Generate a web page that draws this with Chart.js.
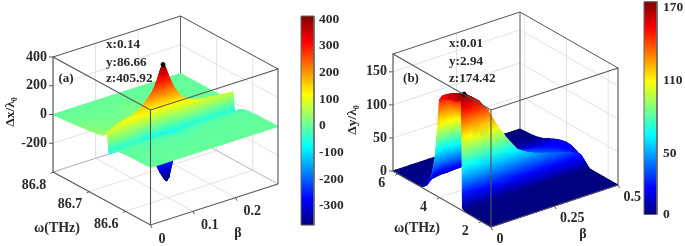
<!DOCTYPE html>
<html>
<head>
<meta charset="utf-8">
<title>Δx and Δy surfaces</title>
<script src="https://cdn.jsdelivr.net/npm/chart.js@4/dist/chart.umd.min.js"></script>
<style>
    html, body { margin: 0; padding: 0; background: #fff; }
    canvas { position: absolute; top: 0; filter: blur(0.45px); }
    #chartA { left: 0; }
    #chartB { left: 345px; }
</style>
</head>
<body>
<canvas id="chartA" width="345" height="246"></canvas>
<canvas id="chartB" width="340" height="246"></canvas>
<script>
// panel (a): values, one row per omega
const betaA = [0, 0.03, 0.06, 0.08, 0.10, 0.115, 0.125, 0.135, 0.14, 0.145, 0.155, 0.165, 0.18, 0.20, 0.23, 0.26, 0.30];
const omegaA = [86.53, 86.56, 86.59, 86.61, 86.625, 86.635, 86.645, 86.65, 86.655, 86.66, 86.665, 86.67, 86.68, 86.70, 86.73, 86.76, 86.80];
const zA = [
    [0, 0, 0, 0, 0, 0, 0, 0, 0, 0, 0, 0, 0, 0, 0, 0, 0],
    [-1, -1, -1, -1, -2, -2, -2, -2, -2, -2, -2, -2, -2, -1, -1, -1, -1],
    [-3, -3, -3, -4, -4, -5, -6, -6, -7, -6, -6, -5, -4, -4, -3, -3, -3],
    [-7, -7, -8, -8, -9, -10, -12, -13, -14, -13, -12, -10, -9, -8, -7, -7, -7],
    [-14, -14, -15, -16, -18, -20, -24, -26, -28, -26, -24, -20, -18, -16, -14, -14, -14],
    [-30, -30, -30, -30, -30, -32, -34, -36, -38, -36, -34, -32, -30, -28, -26, -26, -26],
    [-60, -65, -62, -60, -60, -60, -60, -60, -60, -60, -60, -60, -60, -60, -60, -58, -58],
    [85, 80, 30, -70, -170, -250, -320, -375, -390, -370, -250, -170, -100, -80, -65, -62, -60],
    [60, 105, 125, 150, 140, 70, 20, 10, 20, 20, 30, 85, 150, 110, 90, 80, 70],
    [48, 60, 80, 120, 190, 240, 300, 385, 405.92, 385, 300, 225, 130, 60, 40, 30, 25],
    [44, 42, 55, 85, 130, 165, 210, 265, 280, 265, 210, 160, 85, 30, 20, 15, 10],
    [40, 32, 40, 58, 90, 115, 145, 180, 190, 180, 145, 110, 55, 15, 10, 8, 5],
    [35, 24, 26, 36, 52, 65, 80, 96, 100, 96, 80, 60, 28, 6, 5, 4, 3],
    [25, 20, 16, 18, 24, 30, 35, 40, 42, 40, 35, 25, 12, 3, 2, 2, 1],
    [18, 12, 8, 8, 10, 12, 14, 16, 16, 16, 14, 10, 5, 1, 1, 1, 0],
    [8, 5, 3, 3, 4, 5, 5, 6, 6, 6, 5, 3, 2, 0, 0, 0, 0],
    [0, 0, 0, 0, 0, 0, 0, 0, 0, 0, 0, 0, 0, 0, 0, 0, 0]
];
const betaTicksA = [0, 0.1, 0.2];
const omegaTicksA = [86.6, 86.7, 86.8];
const zTicksA = [400, 200, 0, -200];
const barTicksA = [400, 300, 200, 100, 0, -100, -200, -300];
const peakA = [0.14, 86.66, 405.92];

// panel (b)
const betaB = [0, 0.01, 0.02, 0.04, 0.07, 0.10, 0.14, 0.18, 0.22, 0.26, 0.30, 0.35, 0.40, 0.44, 0.47, 0.50];
const omegaB = [1.53, 2.2, 2.8, 2.9, 2.94, 3.0, 3.2, 3.5, 3.8, 4.0, 4.2, 4.4, 4.6, 4.8, 5.1, 5.5, 6.23];
const zB = [
    [0, 0, 0, 0, 0, 0, 0, 0, 0, 0, 0, 0, 0, 0, 0, 0],
    [0, 0, 0, 0, 0, 0, 0, 0, 0, 0, 0, 0, 0, 0, 0, 0],
    [1, 1, 1, 1, 1, 1, 1, 1, 1, 0, 0, 0, 0, 0, 0, 0],
    [4, 4, 4, 4, 3, 3, 3, 2, 2, 1, 1, 1, 1, 1, 1, 0],
    [165, 174.42, 172, 166, 156, 140, 110, 85, 64, 54, 47, 41, 36, 30, 24, 0],
    [165, 173, 171, 165, 154, 137, 107, 82, 62, 53, 46, 40, 35, 29, 24, 1],
    [160, 170, 168, 160, 147, 128, 100, 77, 58, 50, 43, 38, 33, 28, 23, 8],
    [158, 165, 162, 152, 136, 116, 90, 69, 53, 45, 39, 34, 30, 26, 22, 16],
    [152, 158, 154, 142, 124, 105, 80, 61, 47, 40, 35, 31, 27, 24, 21, 20],
    [148, 152, 147, 134, 115, 96, 72, 55, 42, 36, 31, 28, 25, 22, 20, 20],
    [58, 75, 80, 85, 80, 70, 55, 44, 35, 30, 26, 24, 22, 20, 19, 19],
    [20, 30, 35, 40, 40, 38, 34, 30, 26, 23, 21, 20, 18, 17, 17, 17],
    [8, 14, 18, 22, 24, 23, 22, 21, 19, 17, 16, 15, 14, 14, 14, 14],
    [2, 5, 8, 10, 12, 12, 13, 13, 13, 12, 11, 11, 11, 11, 11, 11],
    [1, 2, 3, 4, 5, 6, 6, 7, 7, 7, 6, 6, 6, 6, 6, 6],
    [0, 1, 1, 1, 2, 2, 2, 2, 3, 3, 3, 2, 2, 2, 2, 2],
    [0, 0, 0, 0, 0, 0, 0, 0, 0, 0, 0, 0, 0, 0, 0, 0]
];
const betaTicksB = [0, 0.25, 0.5];
const omegaTicksB = [2, 4, 6];
const zTicksB = [150, 100, 50, 0];
const barTicksB = [170, 110, 50, 0];
const peakB = [0.01, 2.94, 174.42];

const FONT = '"Liberation Serif", serif';
const TEXT_COLOR = '#2a2a2a';

// jet colormap, t in 0..1
function jet(t) {
    const ch = v => Math.round(255 * Math.max(0, Math.min(1, v)));
    const r = ch(1.5 - Math.abs(4 * t - 3));
    const g = ch(1.5 - Math.abs(4 * t - 2));
    const b = ch(1.5 - Math.abs(4 * t - 1));
    return `rgb(${r},${g},${b})`;
}

function makePanel(p) {
    const canvas = document.getElementById(p.canvas);
    const g2d = canvas.getContext('2d');

    // oblique projection of the box: front bottom corner + one vector per axis
    const project = (beta, omega, z) => {
        const a = (beta - p.betaMin) / (p.betaMax - p.betaMin);
        const b = (omega - p.omegaMin) / (p.omegaMax - p.omegaMin);
        const c = (z - p.zMin) / (p.zMax - p.zMin);
        return {
            x: p.origin[0] + a * p.ex[0] + b * p.ey[0],
            y: p.origin[1] + a * p.ex[1] + b * p.ey[1] + c * p.ez
        };
    };
    const level = z => (z - p.colorMin) / (p.colorMax - p.colorMin);
    const paint = [];

    const line = (pts, color, width) => paint.push({
        data: pts, showLine: true, borderColor: color, borderWidth: width, pointRadius: 0, fill: false
    });

    // grid on the two back walls and the floor
    const bx0 = p.betaMin, bx1 = p.betaMax, om0 = p.omegaMin, om1 = p.omegaMax, z0 = p.zMin, z1 = p.zMax;
    p.zTicks.forEach(z => {
        line([project(bx0, om1, z), project(bx1, om1, z), project(bx1, om0, z)], '#e2e2e2', 1);
    });
    p.betaTicks.forEach(b => {
        line([project(b, om0, z0), project(b, om1, z0), project(b, om1, z1)], '#e2e2e2', 1);
    });
    p.omegaTicks.forEach(w => {
        line([project(bx0, w, z0), project(bx1, w, z0), project(bx1, w, z1)], '#e2e2e2', 1);
    });

    // back edges of the box
    line([project(bx0, om1, z0), project(bx1, om1, z0), project(bx1, om0, z0)], '#b5b5b5', 1);
    line([project(bx1, om1, z0), project(bx1, om1, z1)], '#666', 1);
    line([project(bx0, om1, z1), project(bx1, om1, z1), project(bx1, om0, z1)], '#555', 1);

    // colour of a triangle: z is linear over it, so a linear gradient along grad z is exact
    const triFill = tri => {
        const [a, b, c] = tri;
        const lo = tri.reduce((s, v) => (v.z < s.z ? v : s));
        const hi = tri.reduce((s, v) => (v.z > s.z ? v : s));
        const d1x = b.pt.x - a.pt.x, d1y = b.pt.y - a.pt.y, d2x = c.pt.x - a.pt.x, d2y = c.pt.y - a.pt.y;
        const det = d1x * d2y - d2x * d1y;
        if (hi.z === lo.z || Math.abs(det) < 1e-6) return jet(level((lo.z + hi.z) / 2));
        const gx = ((b.z - a.z) * d2y - (c.z - a.z) * d1y) / det;
        const gy = (d1x * (c.z - a.z) - d2x * (b.z - a.z)) / det;
        const k = (hi.z - lo.z) / (gx * gx + gy * gy);
        const x0 = lo.pt.x - p.viewX[0], y0 = lo.pt.y;
        const g = g2d.createLinearGradient(x0, y0, x0 + gx * k, y0 + gy * k);
        for (let s = 0; s <= 8; s++) {
            g.addColorStop(s / 8, jet(level(lo.z + (hi.z - lo.z) * s / 8)));
        }
        return g;
    };
    const addTri = tri => {
        const shade = triFill(tri);
        paint.push({
            data: [tri[0].pt, tri[1].pt, tri[2].pt, tri[0].pt],
            showLine: true, fill: 'shape', pointRadius: 0, borderWidth: 1,
            backgroundColor: shade, borderColor: shade
        });
    };

    // surface, far cells first so the near ones cover them
    const vertex = (m, n) => ({ pt: project(p.beta[m], p.omega[n], p.z[n][m]), z: p.z[n][m] });
    for (let j = p.omega.length - 2; j >= 0; j--) {
        for (let i = p.beta.length - 2; i >= 0; i--) {
            const near = vertex(i, j), right = vertex(i + 1, j), far = vertex(i + 1, j + 1), left = vertex(i, j + 1);
            addTri([far, right, left]);
            addTri([near, right, left]);
        }
    }

    // peak marker
    paint.push({
        data: [project(p.peak[0], p.peak[1], p.peak[2])],
        pointRadius: 2, backgroundColor: '#000', borderColor: '#000'
    });

    // front edges of the box, on top of the surface
    line([project(bx0, om1, z0), project(bx0, om0, z0), project(bx1, om0, z0)], '#555', 1.1);
    line([project(bx0, om1, z0), project(bx0, om1, z1), project(bx0, om0, z1), project(bx1, om0, z1), project(bx1, om0, z0)], '#555', 1.1);
    line([project(bx0, om0, z0), project(bx0, om0, z1)], '#555', 1.1);

    // small tick marks
    p.betaTicks.forEach(b => {
        const a = project(b, om0, z0);
        line([a, { x: a.x + 1.5, y: a.y + 3 }], '#555', 1);
    });
    p.omegaTicks.forEach(w => {
        const a = project(bx0, w, z0);
        line([a, { x: a.x - 2.5, y: a.y + 1.5 }], '#555', 1);
    });
    p.zTicks.forEach(z => {
        const a = project(bx0, om1, z);
        line([a, { x: a.x - 4, y: a.y }], '#555', 1);
    });

    // colorbar
    const barY = v => p.barZero - v * p.barScale;
    const barGrad = g2d.createLinearGradient(0, barY(p.colorMin), 0, barY(p.colorMax));
    for (let s = 0; s <= 16; s++) {
        barGrad.addColorStop(s / 16, jet(s / 16));
    }
    const rect = [
        { x: p.barX[0], y: barY(p.colorMax) }, { x: p.barX[1], y: barY(p.colorMax) },
        { x: p.barX[1], y: barY(p.colorMin) }, { x: p.barX[0], y: barY(p.colorMin) },
        { x: p.barX[0], y: barY(p.colorMax) }
    ];
    paint.push({
        data: rect, showLine: true, fill: 'shape', pointRadius: 0, borderWidth: 1, borderColor: '#666',
        backgroundColor: barGrad
    });

    // real text: tick labels, titles and the peak readout
    const texts = [];
    const add = (text, at, dx, dy, align, size, rotate) => texts.push({ text, x: at.x + dx, y: at.y + dy, align, size: size || 14, rotate: rotate || 0 });
    p.zTicks.forEach(z => add(String(z), project(bx0, om1, z), -6, 0, 'right'));
    p.omegaTicks.forEach(w => add(String(w), project(bx0, w, z0), p.omegaOffset[0], p.omegaOffset[1], 'center'));
    p.betaTicks.forEach(b => add(String(b), project(b, om0, z0), p.betaOffset[0], p.betaOffset[1], 'left'));
    p.barTicks.forEach(v => add(String(v), { x: p.barLabelX, y: barY(v) }, 0, 0, 'left', 13.5));
    add('ω(THz)', { x: p.omegaTitle[0], y: p.omegaTitle[1] }, 0, 0, 'center', 14);
    add('β', { x: p.betaTitle[0], y: p.betaTitle[1] }, 0, 0, 'center', 14);
    add(p.zTitle, { x: p.zTitleAt[0], y: p.zTitleAt[1] }, 0, 0, 'center', 13.5, -Math.PI / 2);
    add(p.name, { x: p.nameAt[0], y: p.nameAt[1] }, 0, 0, 'center', 13);
    ['x', 'y', 'z'].forEach((axis, k) => {
        add(`${axis}:${p.peak[k]}`, { x: p.readoutX, y: p.readoutY[k] }, 0, 0, 'left', 13.2);
    });

    const textPlugin = {
        id: 'panelText',
        afterDraw(chart) {
            const { ctx, scales } = chart;
            ctx.save();
            ctx.fillStyle = TEXT_COLOR;
            ctx.textBaseline = 'middle';
            texts.forEach(t => {
                ctx.save();
                ctx.translate(scales.x.getPixelForValue(t.x), scales.y.getPixelForValue(t.y));
                ctx.rotate(t.rotate);
                ctx.font = `bold ${t.size}px ${FONT}`;
                ctx.textAlign = t.align;
                ctx.fillText(t.text, 0, 0);
                ctx.restore();
            });
            ctx.restore();
        }
    };

    new Chart(canvas, {
        type: 'scatter',
        // the first dataset is drawn last
        data: { datasets: paint.reverse() },
        options: {
            responsive: false,
            animation: false,
            events: [],
            layout: { padding: 0, autoPadding: false },
            plugins: { legend: { display: false }, tooltip: { enabled: false } },
            scales: {
                x: { type: 'linear', display: false, min: p.viewX[0], max: p.viewX[1] },
                y: { type: 'linear', display: false, min: 0, max: 246, reverse: true }
            }
        },
        plugins: [textPlugin]
    });
}

makePanel({
    canvas: 'chartA', viewX: [0, 345], name: '(a)', nameAt: [66, 79],
    beta: betaA, omega: omegaA, z: zA, peak: peakA,
    betaTicks: betaTicksA, omegaTicks: omegaTicksA, zTicks: zTicksA, barTicks: barTicksA,
    betaMin: 0, betaMax: 0.3, omegaMin: 86.53, omegaMax: 86.8, zMin: -400, zMax: 400,
    colorMin: -372, colorMax: 412,
    origin: [150.5, 225], ex: [127.5, -41], ey: [-97.5, -53], ez: -115,
    barX: [301, 314], barZero: 125.9, barScale: 0.2667, barLabelX: 319,
    omegaOffset: [-19, 13], betaOffset: [8, 14],
    omegaTitle: [57, 228], betaTitle: [238, 233], zTitle: 'Δx/λ₀', zTitleAt: [11, 112],
    readoutX: 106, readoutY: [45, 63, 79]
});

makePanel({
    canvas: 'chartB', viewX: [345, 685], name: '(b)', nameAt: [411, 79],
    beta: betaB, omega: omegaB, z: zB, peak: peakB,
    betaTicks: betaTicksB, omegaTicks: omegaTicksB, zTicks: zTicksB, barTicks: barTicksB,
    betaMin: 0, betaMax: 0.5, omegaMin: 1.53, omegaMax: 6.23, zMin: 0, zMax: 177,
    colorMin: 0, colorMax: 174.42,
    origin: [491, 227], ex: [127, -42], ey: [-98, -56], ez: -117,
    barX: [644, 657], barZero: 214.5, barScale: 1.22, barLabelX: 663,
    omegaOffset: [-16, 10], betaOffset: [5.5, 12.5],
    omegaTitle: [417, 228], betaTitle: [583, 234], zTitle: 'Δy/λ₀', zTitleAt: [353, 120],
    readoutX: 449, readoutY: [44, 62, 79]
});
</script>
</body>
</html>
